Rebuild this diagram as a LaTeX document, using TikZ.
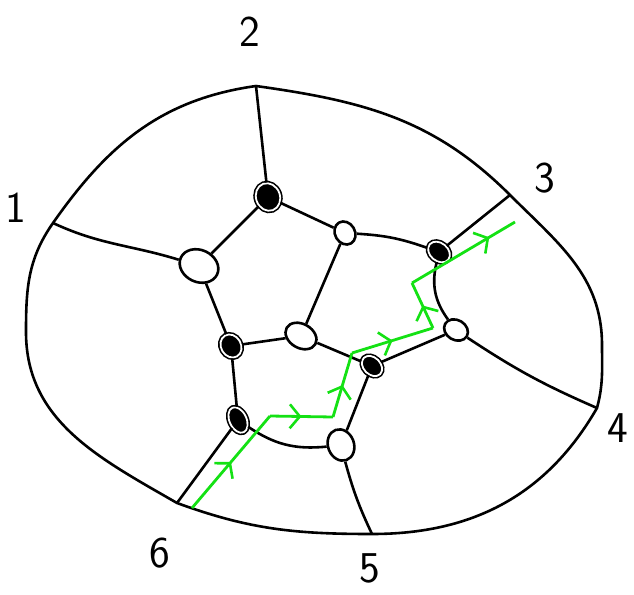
\documentclass[tikz,border=0pt]{standalone}
\usepackage{tikz}
\usetikzlibrary{calc, positioning, arrows.meta, shapes.geometric, decorations.markings}
\usepackage{xcolor}
\definecolor{pathGreen}{RGB}{20, 225, 20}

\tikzset{
  bvert/.style={ellipse, draw=black, fill=black, line width=1.6pt,
    double=white, double distance=1.8pt, inner sep=0pt},
  wvert/.style={ellipse, draw=black, fill=white, line width=2.6pt, inner sep=0pt},
  edge/.style={line width=2.6pt},
  gseg/.style={pathGreen, line width=2.8pt, postaction={decorate},
    decoration={markings, mark=at position #1 with {\arrow{Straight Barb[length=10pt, width=24pt, line width=2.6pt]}}}},
  gseg/.default=0.5,
  lbl/.style={font=\fontsize{44}{44}\selectfont\sffamily}
}

\begin{document}
\begin{tikzpicture}[x=1pt, y=-1pt]
  \useasboundingbox (0,0) rectangle (634,594);

  % boundary points
  \coordinate (p1) at (53,223);
  \coordinate (p2) at (256,86);
  \coordinate (p3) at (510,195);
  \coordinate (p4) at (597,408);
  \coordinate (p5) at (372,534);
  \coordinate (p6) at (177,503);
  \coordinate (pl) at (26,332);
  \coordinate (pr) at (602,345);

  % disk
  \draw[edge] (p2) to[out=188, in=55] (p1)
    to[out=235, in=90] (pl)
    to[out=270, in=150] (p6)
    to[out=-20, in=180] (p5)
    to[out=0, in=-120] (p4)
    to[out=75, in=-90] (pr)
    to[out=90, in=-45] (p3)
    to[out=135, in=-8] (p2);

  % black vertices
  \node[bvert, minimum width=24pt, minimum height=28pt, rotate=20] (b1) at (268,197) {};
  \node[bvert, minimum width=18pt, minimum height=24pt, rotate=50] (b2) at (439,252) {};
  \node[bvert, minimum width=17pt, minimum height=23pt, rotate=45] (b3) at (372,366) {};
  \node[bvert, minimum width=20pt, minimum height=24pt, rotate=30] (b4) at (231,346) {};
  \node[bvert, minimum width=17pt, minimum height=27pt, rotate=25] (b5) at (238,420) {};

  % white vertices
  \node[wvert, minimum width=24pt, minimum height=20pt, rotate=-60] (w1) at (345,233) {};
  \node[wvert, minimum width=25pt, minimum height=20pt, rotate=-30] (w2) at (456,330) {};
  \node[wvert, minimum width=33pt, minimum height=24pt, rotate=-30] (w3) at (301,336) {};
  \node[wvert, minimum width=40pt, minimum height=32pt, rotate=-25] (w4) at (199,266) {};
  \node[wvert, minimum width=26pt, minimum height=32pt, rotate=20] (w5) at (341,445) {};

  % edges
  \draw[edge] (p2) -- (b1);
  \draw[edge] (b1) -- (w4);
  \draw[edge] (b1) -- (w1);
  \draw[edge] (w1) to[bend left=8] (b2);
  \draw[edge] (w1) -- (w3);
  \draw[edge] (p1) to[out=-25, in=170] (w4);
  \draw[edge] (w4) -- (b4);
  \draw[edge] (b4) -- (w3);
  \draw[edge] (b4) -- (b5);
  \draw[edge] (w3) -- (b3);
  \draw[edge] (b3) -- (w2);
  \draw[edge] (b3) -- (w5);
  \draw[edge] (b5) to[bend right=20] (w5);
  \draw[edge] (b5) -- (p6);
  \draw[edge] (w5) to[bend right=5] (p5);
  \draw[edge] (b2) -- (p3);
  \draw[edge] (b2) to[bend right=25] (w2);
  \draw[edge] (w2) to[bend right=5] (p4);

  % green path
  \coordinate (g0) at (192,508);
  \coordinate (g1) at (270,416);
  \coordinate (g2) at (333,417);
  \coordinate (g3) at (352,353);
  \coordinate (g4) at (433,328);
  \coordinate (g5) at (412,283);
  \coordinate (g6) at (515,222);
  \draw[gseg] (g0) -- (g1);
  \draw[gseg] (g1) -- (g2);
  \draw[gseg] (g2) -- (g3);
  \draw[gseg] (g3) -- (g4);
  \draw[gseg] (g4) -- (g5);
  \draw[gseg=0.75] (g5) -- (g6);

  % labels
  \node[lbl] (l1) at (16,208) {1};
  \node[lbl] (l2) at (250,32) {2};
  \node[lbl] (l3) at (545,178) {3};
  \node[lbl] (l4) at (618,428) {4};
  \node[lbl] (l5) at (370,568) {5};
  \node[lbl] (l6) at (160,553) {6};
\end{tikzpicture}
\end{document}
